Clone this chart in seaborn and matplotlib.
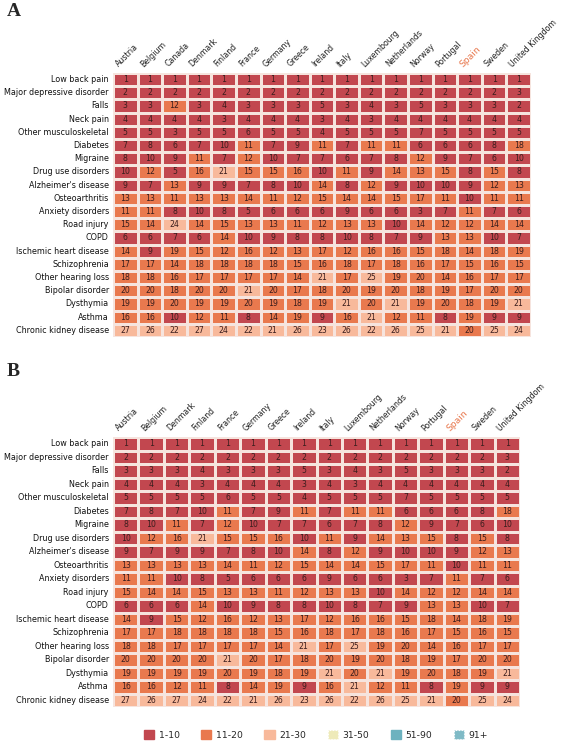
import numpy as np
import pandas as pd
import matplotlib
matplotlib.use("Agg")
import matplotlib.pyplot as plt
import seaborn as sns
from matplotlib.colors import ListedColormap, BoundaryNorm
from matplotlib.patches import Patch
from matplotlib.transforms import ScaledTranslation

# ---------------- data ----------------
countries = ["Austria", "Belgium", "Canada", "Denmark", "Finland", "France", "Germany",
             "Greece", "Ireland", "Italy", "Luxembourg", "Netherlands", "Norway",
             "Portugal", "Spain", "Sweden", "United Kingdom"]

diseases = ["Low back pain", "Major depressive disorder", "Falls", "Neck pain",
            "Other musculoskeletal", "Diabetes", "Migraine", "Drug use disorders",
            "Alzheimer's disease", "Osteoarthritis", "Anxiety disorders", "Road injury",
            "COPD", "Ischemic heart disease", "Schizophrenia", "Other hearing loss",
            "Bipolar disorder", "Dysthymia", "Asthma", "Chronic kidney disease"]

low_back_pain = [1, 1, 1, 1, 1, 1, 1, 1, 1, 1, 1, 1, 1, 1, 1, 1, 1]
major_depressive = [2, 2, 2, 2, 2, 2, 2, 2, 2, 2, 2, 2, 2, 2, 2, 2, 3]
falls = [3, 3, 12, 3, 4, 3, 3, 3, 5, 3, 4, 3, 5, 3, 3, 3, 2]
neck_pain = [4, 4, 4, 4, 3, 4, 4, 4, 3, 4, 3, 4, 4, 4, 4, 4, 4]
other_musculoskeletal = [5, 5, 3, 5, 5, 6, 5, 5, 4, 5, 5, 5, 7, 5, 5, 5, 5]
diabetes = [7, 8, 6, 7, 10, 11, 7, 9, 11, 7, 11, 11, 6, 6, 6, 8, 18]
migraine = [8, 10, 9, 11, 7, 12, 10, 7, 7, 6, 7, 8, 12, 9, 7, 6, 10]
drug_use = [10, 12, 5, 16, 21, 15, 15, 16, 10, 11, 9, 14, 13, 15, 8, 15, 8]
alzheimers = [9, 7, 13, 9, 9, 7, 8, 10, 14, 8, 12, 9, 10, 10, 9, 12, 13]
osteoarthritis = [13, 13, 11, 13, 13, 14, 11, 12, 15, 14, 14, 15, 17, 11, 10, 11, 11]
anxiety = [11, 11, 8, 10, 8, 5, 6, 6, 6, 9, 6, 6, 3, 7, 11, 7, 6]
road_injury = [15, 14, 24, 14, 15, 13, 13, 11, 12, 13, 13, 10, 14, 12, 12, 14, 14]
copd = [6, 6, 7, 6, 14, 10, 9, 8, 8, 10, 8, 7, 9, 13, 13, 10, 7]
ischemic_heart = [14, 9, 19, 15, 12, 16, 12, 13, 17, 12, 16, 16, 15, 18, 14, 18, 19]
schizophrenia = [17, 17, 14, 18, 18, 18, 18, 15, 16, 18, 17, 18, 16, 17, 15, 16, 15]
hearing_loss = [18, 18, 16, 17, 17, 17, 17, 14, 21, 17, 25, 19, 20, 14, 16, 17, 17]
bipolar = [20, 20, 18, 20, 20, 21, 20, 17, 18, 20, 19, 20, 18, 19, 17, 20, 20]
dysthymia = [19, 19, 20, 19, 19, 20, 19, 18, 19, 21, 20, 21, 19, 20, 18, 19, 21]
asthma = [16, 16, 10, 12, 11, 8, 14, 19, 9, 16, 21, 12, 11, 8, 19, 9, 9]
ckd = [27, 26, 22, 27, 24, 22, 21, 26, 23, 26, 22, 26, 25, 21, 20, 25, 24]

legend_labels = ["1-10", "11-20", "21-30", "31-50", "51-90", "91+"]
bin_edges = [0.5, 10.5, 20.5, 30.5, 50.5, 90.5, 1000]
bin_colors = ["#c2474f", "#e9794e", "#f8b99b", "#eeeab9", "#6db2bf", "#7fbac6"]

rows = [low_back_pain, major_depressive, falls, neck_pain, other_musculoskeletal,
        diabetes, migraine, drug_use, alzheimers, osteoarthritis, anxiety, road_injury,
        copd, ischemic_heart, schizophrenia, hearing_loss, bipolar, dysthymia, asthma, ckd]

dfA = pd.DataFrame(rows, index=diseases, columns=countries)
dfB = dfA.drop(columns=["Canada"])

# ---------------- figure ----------------
sns.set_style("white")
W, H = 567, 741
fig = plt.figure(figsize=(W / 100, H / 100), dpi=100)

cmap = ListedColormap(bin_colors)
norm = BoundaryNorm(bin_edges, cmap.N)

axA = fig.add_axes([113 / W, 1 - 337 / H, 418 / W, 264 / H])
axB = fig.add_axes([113 / W, 1 - 707 / H, 407 / W, 270 / H])

label_shift = ScaledTranslation(-0.05, 0, fig.dpi_scale_trans)

for ax, df in [(axA, dfA), (axB, dfB)]:
    sns.heatmap(df, ax=ax, cmap=cmap, norm=norm, annot=True, fmt="d", cbar=False,
                linewidths=0.8, linecolor="#f6e4de",
                annot_kws={"size": 5.6, "color": "#3a1d1d"})
    ax.xaxis.tick_top()
    ax.set_xticks(np.arange(len(df.columns)) + 0.5)
    ax.set_xticklabels(df.columns, rotation=45, ha="left", va="bottom",
                       rotation_mode="anchor", fontsize=5.7, color="#222222")
    ax.set_yticks(np.arange(len(df.index)) + 0.5)
    ax.set_yticklabels(df.index, rotation=0, fontsize=5.8, color="#111111")
    ax.tick_params(axis="both", length=0)
    ax.tick_params(axis="x", pad=3)
    ax.tick_params(axis="y", pad=3)
    ax.set_xlabel("")
    ax.set_ylabel("")
    for lab in ax.get_xticklabels():
        lab.set_transform(lab.get_transform() + label_shift)
        if lab.get_text() == "Spain":
            lab.set_color("#e8774c")
            lab.set_fontsize(6.6)

fig.text(7 / W, 1 - 3 / H, "A", fontsize=14, fontweight="bold",
         family="Liberation Serif", va="top", ha="left")
fig.text(7 / W, 1 - 363 / H, "B", fontsize=14, fontweight="bold",
         family="Liberation Serif", va="top", ha="left")

handles = []
for lab, col in zip(legend_labels, bin_colors):
    if lab in ("31-50", "91+"):
        handles.append(Patch(facecolor=col, edgecolor="white", linestyle=":",
                             linewidth=0.8, label=lab))
    else:
        handles.append(Patch(facecolor=col, edgecolor=col, label=lab))

fig.legend(handles=handles, loc="center", bbox_to_anchor=(316 / W, 1 - 735 / H),
           ncol=6, frameon=False, fontsize=6.7, handlelength=1.1, handleheight=1.1,
           handletextpad=0.5, columnspacing=2.3, borderpad=0.1)

fig.savefig("out.png", dpi=100)
